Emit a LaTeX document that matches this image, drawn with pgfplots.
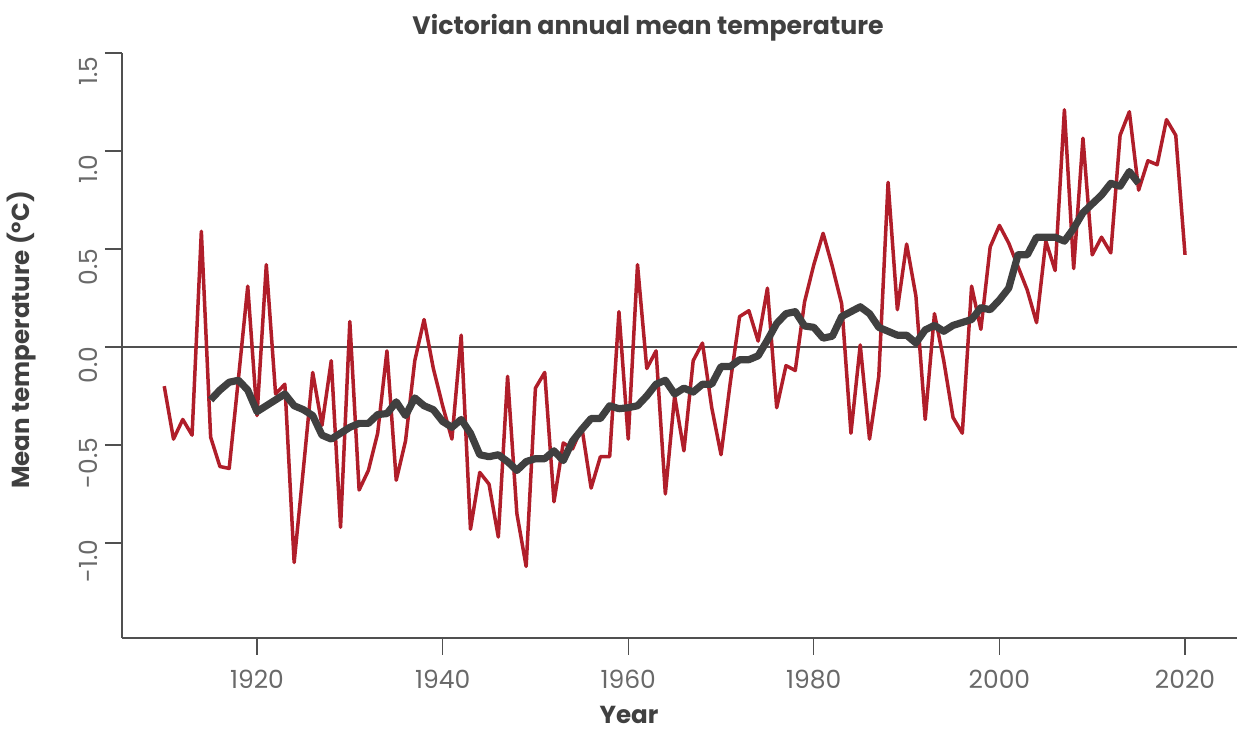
\documentclass[border=0pt]{standalone}
\usepackage{fontspec}
\setmainfont{Poppins}
\usepackage{pgfplots}
\pgfplotsset{compat=1.18}
\definecolor{vicred}{RGB}{176,30,42}
\definecolor{trend}{RGB}{64,64,64}
\definecolor{axisgray}{RGB}{80,80,80}
\definecolor{ticktext}{RGB}{105,105,105}

\pgfplotstableread{
year temp
1910 -0.20
1911 -0.47
1912 -0.37
1913 -0.45
1914 0.59
1915 -0.46
1916 -0.61
1917 -0.62
1918 -0.16
1919 0.31
1920 -0.35
1921 0.42
1922 -0.24
1923 -0.19
1924 -1.10
1925 -0.62
1926 -0.13
1927 -0.40
1928 -0.07
1929 -0.92
1930 0.13
1931 -0.73
1932 -0.63
1933 -0.44
1934 -0.02
1935 -0.68
1936 -0.48
1937 -0.07
1938 0.14
1939 -0.11
1940 -0.30
1941 -0.47
1942 0.06
1943 -0.93
1944 -0.64
1945 -0.70
1946 -0.97
1947 -0.15
1948 -0.85
1949 -1.12
1950 -0.21
1951 -0.13
1952 -0.79
1953 -0.49
1954 -0.52
1955 -0.41
1956 -0.72
1957 -0.56
1958 -0.56
1959 0.18
1960 -0.47
1961 0.42
1962 -0.11
1963 -0.02
1964 -0.75
1965 -0.25
1966 -0.53
1967 -0.07
1968 0.02
1969 -0.31
1970 -0.55
1971 -0.18
1972 0.155
1973 0.185
1974 0.03
1975 0.30
1976 -0.31
1977 -0.095
1978 -0.12
1979 0.23
1980 0.42
1981 0.58
1982 0.41
1983 0.22
1984 -0.44
1985 0.01
1986 -0.47
1987 -0.15
1988 0.84
1989 0.19
1990 0.525
1991 0.26
1992 -0.37
1993 0.17
1994 -0.07
1995 -0.36
1996 -0.44
1997 0.31
1998 0.09
1999 0.51
2000 0.62
2001 0.53
2002 0.41
2003 0.29
2004 0.124
2005 0.54
2006 0.39
2007 1.21
2008 0.40
2009 1.065
2010 0.47
2011 0.56
2012 0.48
2013 1.08
2014 1.20
2015 0.80
2016 0.95
2017 0.93
2018 1.16
2019 1.08
2020 0.47
}\annual

% 11-year running mean
\pgfplotstableread{
year temp
1915 -0.27
1916 -0.22
1917 -0.18
1918 -0.17
1919 -0.22
1920 -0.33
1921 -0.30
1922 -0.27
1923 -0.24
1924 -0.30
1925 -0.32
1926 -0.35
1927 -0.45
1928 -0.47
1929 -0.44
1930 -0.41
1931 -0.39
1932 -0.39
1933 -0.345
1934 -0.34
1935 -0.28
1936 -0.35
1937 -0.26
1938 -0.30
1939 -0.32
1940 -0.38
1941 -0.41
1942 -0.37
1943 -0.44
1944 -0.55
1945 -0.56
1946 -0.55
1947 -0.585
1948 -0.63
1949 -0.585
1950 -0.57
1951 -0.57
1952 -0.53
1953 -0.58
1954 -0.48
1955 -0.42
1956 -0.365
1957 -0.365
1958 -0.30
1959 -0.315
1960 -0.31
1961 -0.30
1962 -0.25
1963 -0.19
1964 -0.17
1965 -0.24
1966 -0.21
1967 -0.23
1968 -0.19
1969 -0.19
1970 -0.10
1971 -0.10
1972 -0.065
1973 -0.065
1974 -0.045
1975 0.035
1976 0.12
1977 0.17
1978 0.18
1979 0.107
1980 0.10
1981 0.045
1982 0.055
1983 0.155
1984 0.18
1985 0.205
1986 0.17
1987 0.10
1988 0.08
1989 0.06
1990 0.06
1991 0.02
1992 0.087
1993 0.11
1994 0.08
1995 0.11
1996 0.125
1997 0.14
1998 0.20
1999 0.19
2000 0.24
2001 0.30
2002 0.47
2003 0.47
2004 0.56
2005 0.56
2006 0.56
2007 0.54
2008 0.605
2009 0.685
2010 0.73
2011 0.775
2012 0.835
2013 0.82
2014 0.895
2015 0.835
}\smooth

\begin{document}
\begin{tikzpicture}[x=0.5pt,y=0.5pt]
\path[use as bounding box] (-122,-93) rectangle (1115,638);
\begin{axis}[
  at={(0,0)}, anchor=south west,
  scale only axis, width=557.5pt, height=292.5pt,
  xmin=1905.45, xmax=2025.6, ymin=-1.485, ymax=1.5,
  axis x line*=bottom, axis y line*=left,
  axis line style={axisgray,line width=0.75pt,-},
  tick style={axisgray,line width=0.6pt},
  tick align=outside, major tick length=8.5pt,
  xtick={1920,1940,...,2020},
  ytick={-1,-0.5,0,0.5,1,1.5},
  x tick label style={font=\fontsize{12.5}{14}\selectfont,text=ticktext,yshift=-4pt},
  y tick label style={font=\fontsize{12.5}{14}\selectfont,text=ticktext,rotate=90,anchor=south,xshift=-9pt},
  /pgf/number format/assume math mode=true,
  xticklabel={\pgfmathprintnumber[1000 sep={}]{\tick}},
  yticklabel={\pgfmathprintnumber[fixed,fixed zerofill,precision=1]{\tick}},
  clip=false,
]
\draw[axisgray,line width=0.75pt] (axis cs:1905.45,0) -- (axis cs:2025.6,0);
\addplot[vicred,line width=1.75pt,line join=round] table[x=year,y=temp] {\annual};
\addplot[trend,line width=3.6pt,line join=round] table[x=year,y=temp] {\smooth};
\end{axis}
\node[font=\bfseries\fontsize{12.6}{14}\selectfont,text=trend] at (526,610) {Victorian annual mean temperature};
\node[font=\bfseries\fontsize{12.3}{14}\selectfont,text=trend,rotate=90] at (-100,298) {Mean temperature (°C)};
\node[font=\bfseries\fontsize{12.3}{14}\selectfont,text=trend] at (507,-77) {Year};
\end{tikzpicture}
\end{document}
